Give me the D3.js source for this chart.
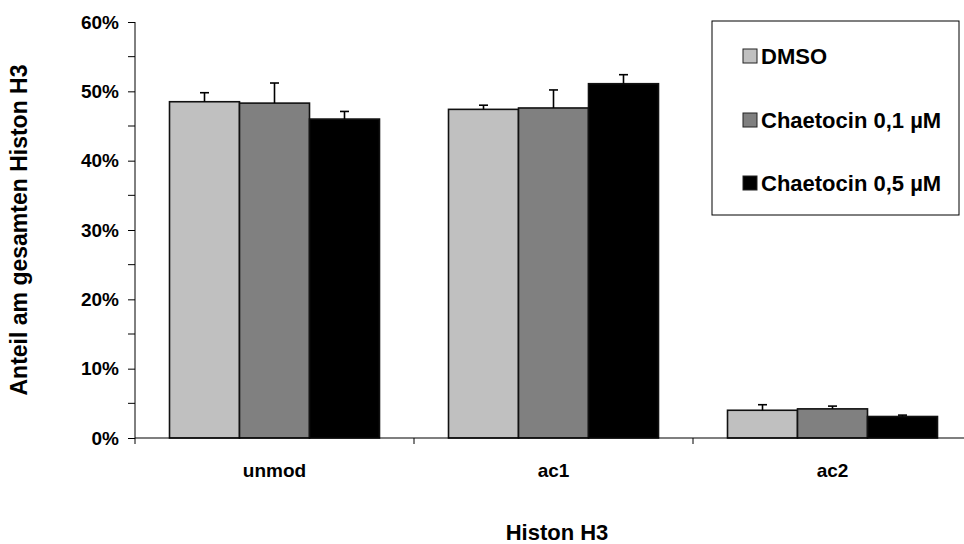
<!DOCTYPE html>
<html>
<head>
<meta charset="utf-8">
<script src="https://cdn.jsdelivr.net/npm/d3@7"></script>
<style>
  body { margin: 0; background: #fff; }
  svg { display: block; }
  svg text { font-family: Arial, "Liberation Sans", sans-serif; font-weight: bold; fill: #000; }
</style>
</head>
<body>
<svg id="chart" width="964" height="544"></svg>
<script>
// Histone H3 acetylation states per treatment (share of total H3, %)
const categories = ["unmod", "ac1", "ac2"];
const seriesNames = ["DMSO", "Chaetocin 0,1 \u00b5M", "Chaetocin 0,5 \u00b5M"];
const dmsoValues = [48.5, 47.4, 4.0];
const chaet01Values = [48.3, 47.6, 4.2];
const chaet05Values = [46.0, 51.1, 3.1];
const dmsoErrors = [1.3, 0.6, 0.8];
const chaet01Errors = [2.9, 2.6, 0.4];
const chaet05Errors = [1.1, 1.3, 0.2];
const yTicks = [0, 10, 20, 30, 40, 50, 60];
const yMinorTicks = [5, 15, 25, 35, 45, 55];
const colors = ["#c0c0c0", "#808080", "#000000"];

const series = [
  { name: seriesNames[0], values: dmsoValues, errors: dmsoErrors },
  { name: seriesNames[1], values: chaet01Values, errors: chaet01Errors },
  { name: seriesNames[2], values: chaet05Values, errors: chaet05Errors }
];

const svg = d3.select("#chart");
const plotLeft = 135, plotRight = 972, plotTop = 22, plotBottom = 438;

const x = d3.scaleBand().domain(categories).range([plotLeft, plotRight]).paddingInner(0).paddingOuter(0);
const inner = d3.scaleBand().domain(d3.range(series.length)).range([0, x.bandwidth()])
  .paddingInner(0).paddingOuter(0.493);
const y = d3.scaleLinear().domain([0, 60]).range([plotBottom, plotTop]);

// bars with upper error bars
series.forEach((s, si) => {
  const g = svg.append("g");
  g.selectAll("rect").data(s.values).join("rect")
    .attr("x", (d, i) => x(categories[i]) + inner(si))
    .attr("y", d => y(d))
    .attr("width", inner.bandwidth())
    .attr("height", d => y(0) - y(d))
    .attr("fill", colors[si])
    .attr("stroke", "#111")
    .attr("stroke-width", 1.6);
  s.values.forEach((v, i) => {
    const cx = x(categories[i]) + inner(si) + inner.bandwidth() / 2;
    const yt = y(v + s.errors[i]);
    g.append("line").attr("x1", cx).attr("x2", cx)
      .attr("y1", y(v)).attr("y2", yt)
      .attr("stroke", "#000").attr("stroke-width", 1.6);
    g.append("line").attr("x1", cx - 4.5).attr("x2", cx + 4.5)
      .attr("y1", yt).attr("y2", yt)
      .attr("stroke", "#000").attr("stroke-width", 1.6);
  });
});

// y axis
const yAxis = d3.axisLeft(y).tickValues(yTicks).tickFormat(d => d + "%").tickSize(7).tickPadding(9);
const gy = svg.append("g").attr("transform", `translate(${plotLeft},0)`).call(yAxis);
gy.attr("font-family", null).attr("font-size", null);
gy.select(".domain").attr("stroke", "#000").attr("d", `M0,${plotTop}V${plotBottom}`);
gy.selectAll(".tick line").attr("stroke", "#000");
gy.selectAll("text").style("font-size", "19px");
svg.append("g").selectAll("line").data(yMinorTicks).join("line")
  .attr("x1", plotLeft - 7).attr("x2", plotLeft).attr("y1", d => y(d)).attr("y2", d => y(d))
  .attr("stroke", "#000");

// x axis
svg.append("line").attr("x1", plotLeft).attr("x2", plotRight).attr("y1", plotBottom).attr("y2", plotBottom)
  .attr("stroke", "#000").attr("stroke-width", 1.2);
svg.append("g").selectAll("line").data(categories).join("line")
  .attr("x1", d => x(d)).attr("x2", d => x(d)).attr("y1", plotBottom).attr("y2", plotBottom + 6)
  .attr("stroke", "#000");
svg.append("g").selectAll("text").data(categories).join("text")
  .attr("x", d => x(d) + x.bandwidth() / 2)
  .attr("y", 477)
  .attr("text-anchor", "middle")
  .style("font-size", "19px")
  .text(d => d);

// axis titles
svg.append("text").attr("x", 557).attr("y", 540).attr("text-anchor", "middle")
  .style("font-size", "22px").text("Histon H3");
svg.append("text").attr("transform", "translate(27,230) rotate(-90)").attr("text-anchor", "middle")
  .style("font-size", "23px").text("Anteil am gesamten Histon H3");

// legend
const lg = svg.append("g");
lg.append("rect").attr("x", 712).attr("y", 21).attr("width", 247).attr("height", 194)
  .attr("fill", "#fff").attr("stroke", "#000").attr("stroke-width", 1);
const rowsY = [56, 120, 183];
series.forEach((s, si) => {
  lg.append("rect").attr("x", 743).attr("y", rowsY[si] - 7).attr("width", 14).attr("height", 14)
    .attr("fill", colors[si]).attr("stroke", "#222").attr("stroke-width", 1);
  lg.append("text").attr("x", 761).attr("y", rowsY[si] + 8)
    .style("font-size", "22px").text(s.name);
});
</script>
</body>
</html>
